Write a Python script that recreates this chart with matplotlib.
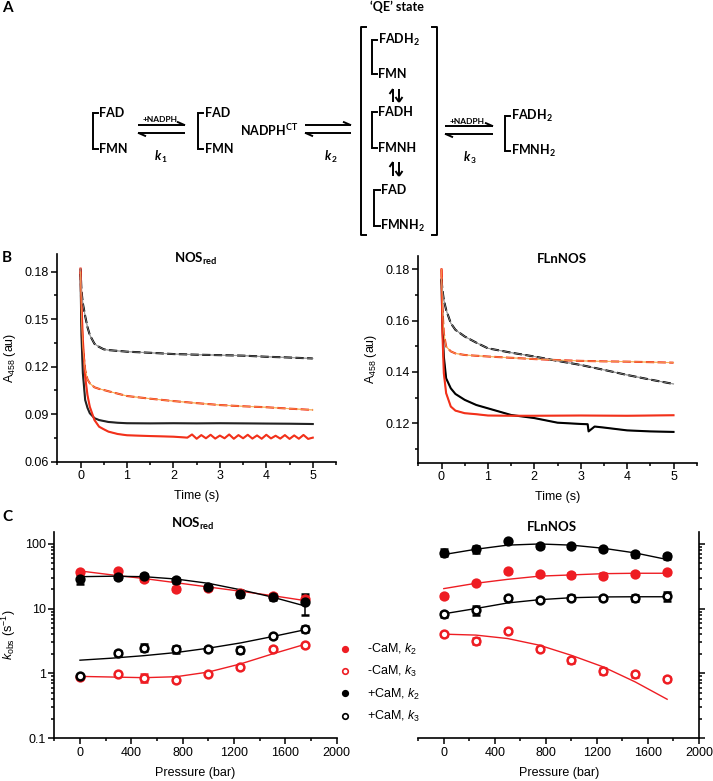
import numpy as np
import matplotlib
matplotlib.use('Agg')
import matplotlib.pyplot as plt
from matplotlib.ticker import MultipleLocator, LogLocator, FuncFormatter, NullFormatter
from matplotlib.lines import Line2D

plt.rcParams['font.family'] = ['Liberation Sans', 'DejaVu Sans']
plt.rcParams['mathtext.fontset'] = 'custom'
plt.rcParams['mathtext.rm'] = 'Liberation Sans'
plt.rcParams['mathtext.it'] = 'Liberation Sans:italic'
plt.rcParams['mathtext.bf'] = 'Lato:bold'

RED = '#f2301b'
FIT_RED = '#f7b25a'
FIT_BLK = '#9a9a9a'
PT_RED = '#ee1d23'
FS = 9

# ---- panel B: stopped-flow traces (A458 vs time) ----
# NOSred
t_nos_bd = [0, 0.02, 0.05, 0.1, 0.15, 0.2, 0.3, 0.4, 0.5, 0.6, 0.8, 1.0, 1.5, 2.0, 2.5, 3.0, 3.5, 4.0, 4.5, 5.0]
nos_blk_dash = [0.182, 0.168, 0.160, 0.152, 0.145, 0.140, 0.1345, 0.1325, 0.131, 0.1305, 0.130, 0.1295, 0.1288,
                0.128, 0.1276, 0.1273, 0.127, 0.1263, 0.1258, 0.1252]
nos_red_dash = [0.180, 0.150, 0.132, 0.118, 0.112, 0.1095, 0.107, 0.106, 0.1053, 0.1045, 0.103, 0.1015, 0.0998,
                0.0983, 0.097, 0.0958, 0.095, 0.0944, 0.0935, 0.0927]
nos_blk_solid = [0.178, 0.140, 0.116, 0.099, 0.094, 0.0906, 0.0875, 0.0863, 0.0857, 0.0851, 0.0846, 0.0843, 0.0842,
                 0.0843, 0.0842, 0.0843, 0.0842, 0.0841, 0.0840, 0.0838]
t_nos_rs = [0, 0.02, 0.05, 0.1, 0.15, 0.2, 0.3, 0.4, 0.5, 0.6, 0.8, 1.0, 1.5, 2.0, 2.3, 2.4, 2.5, 2.6, 2.7, 2.8,
            2.9, 3.0, 3.1, 3.2, 3.3, 3.4, 3.5, 3.6, 3.7, 3.8, 3.9, 4.0, 4.1, 4.2, 4.3, 4.4, 4.5, 4.6, 4.7, 4.8,
            4.9, 5.0]
nos_red_solid = [0.182, 0.160, 0.137, 0.1137, 0.102, 0.0947, 0.0863, 0.0821, 0.0805, 0.079, 0.0775, 0.0767, 0.0762,
                 0.0758, 0.0752, 0.0772, 0.0745, 0.0768, 0.0748, 0.0770, 0.0746, 0.0765, 0.0748, 0.0772, 0.0745,
                 0.0768, 0.0748, 0.0770, 0.0746, 0.0766, 0.0745, 0.0770, 0.0747, 0.0764, 0.0746, 0.0768, 0.0744,
                 0.0766, 0.0745, 0.0769, 0.0744, 0.0752]

# FLnNOS
t_fl = [0, 0.02, 0.05, 0.1, 0.2, 0.3, 0.5, 0.75, 1.0, 1.5, 2.0, 2.5, 3.0, 3.5, 4.0, 4.5, 5.0]
fl_blk_dash = [0.176, 0.172, 0.168, 0.1642, 0.159, 0.1564, 0.1538, 0.1514, 0.1492, 0.1475, 0.146, 0.1443, 0.1427,
               0.1408, 0.1388, 0.137, 0.1353]
fl_red_dash = [0.180, 0.165, 0.155, 0.1499, 0.148, 0.1472, 0.1466, 0.1463, 0.146, 0.1455, 0.145, 0.1446, 0.1443,
               0.1441, 0.144, 0.1438, 0.1436]
t_fl_bs = [0, 0.02, 0.05, 0.1, 0.2, 0.3, 0.5, 0.75, 1.0, 1.5, 2.0, 2.5, 3.0, 3.15, 3.17, 3.3, 3.5, 4.0, 4.5, 5.0]
fl_blk_solid = [0.176, 0.158, 0.146, 0.1375, 0.1336, 0.1314, 0.1291, 0.1271, 0.1258, 0.1232, 0.122, 0.1202, 0.1197,
                0.1196, 0.1168, 0.1187, 0.1183, 0.1172, 0.1168, 0.1166]
t_fl_rs = [0, 0.02, 0.05, 0.1, 0.2, 0.3, 0.5, 0.75, 1.0, 1.5, 2.0, 3.0, 4.0, 5.0]
fl_red_solid = [0.180, 0.155, 0.1395, 0.1317, 0.1265, 0.1249, 0.1239, 0.1235, 0.1230, 0.1229, 0.1229, 0.123,
                0.1229, 0.1231]

# ---- panel C: kobs vs pressure ----
p_nos = [0, 300, 500, 750, 1000, 1250, 1500, 1750]
nos_k2_mcam = [36.5, 37.5, 28.5, 20.0, 21.0, 17.4, 15.6, 13.9]
nos_k2_mcam_err = [2, 2, 2, 1.5, 1.5, 1.5, 1, 1.5]
nos_k2_pcam = [29.0, 30.6, 31.8, 27.2, 21.5, 17.0, 15.1, 12.4]
nos_k2_pcam_err = [5, 2, 2, 2, 1.5, 2, 1.5, 4.5]
nos_k3_mcam = [0.89, 0.97, 0.86, 0.79, 0.98, 1.26, 2.42, 2.72]
nos_k3_mcam_err = [0.05, 0.05, 0.13, 0.05, 0.05, 0.08, 0.1, 0.15]
nos_k3_pcam = [0.91, 2.1, 2.5, 2.36, 2.4, 2.3, 3.75, 4.85]
nos_k3_pcam_err = [0.05, 0.15, 0.3, 0.3, 0.2, 0.25, 0.2, 0.5]

p_fit = [0, 250, 500, 750, 1000, 1250, 1500, 1750]
nos_fit_k2_mcam = [38, 33, 29, 25, 21.5, 18.5, 15.8, 13.3]
nos_fit_k2_pcam = [31, 31.5, 31, 28.5, 24.5, 19.5, 15, 11]
nos_fit_k3_mcam = [0.9, 0.88, 0.86, 0.89, 1.05, 1.4, 2.0, 2.8]
nos_fit_k3_pcam = [1.6, 1.72, 1.88, 2.1, 2.45, 2.95, 3.7, 4.7]

p_fl = [0, 250, 500, 750, 1000, 1250, 1500, 1750]
fl_k2_pcam = [72.7, 81.7, 109.6, 90.8, 91.8, 81.7, 68.4, 63.8]
fl_k2_pcam_err = [9, 10, 6, 5, 5, 5, 7, 5]
fl_k2_mcam = [15.6, 24.8, 37.9, 33.7, 32.9, 32.2, 34.5, 36.1]
fl_k2_mcam_err = [1, 1, 2, 2, 2, 3, 2, 2]
fl_k3_pcam = [8.1, 9.4, 14.6, 13.7, 14.7, 14.7, 14.7, 15.5]
fl_k3_pcam_err = [0.6, 1.5, 1, 0.8, 1.2, 1, 1.5, 2.5]
fl_k3_mcam = [4.03, 3.18, 4.48, 2.37, 1.6, 1.10, 0.975, 0.82]
fl_k3_mcam_err = [0.2, 0.3, 0.35, 0.15, 0.15, 0.12, 0.08, 0.05]

fl_fit_k2_pcam = [68, 82, 95, 99, 95, 85, 72, 57]
fl_fit_k2_mcam = [20.3, 24.5, 28.2, 31.6, 33, 34.5, 35, 35]
fl_fit_k3_pcam = [8.3, 10, 12.2, 13.7, 14.7, 15.1, 15.2, 15.2]
fl_fit_k3_mcam = [4.03, 3.9, 3.45, 2.72, 1.9, 1.26, 0.74, 0.40]

legend_labels = [r'-CaM, $k_{\mathrm{2}}$', r'-CaM, $k_{\mathrm{3}}$',
                 r'+CaM, $k_{\mathrm{2}}$', r'+CaM, $k_{\mathrm{3}}$']

W, H = 713, 781
fig = plt.figure(figsize=(W / 100, H / 100), dpi=100)


def px_axes(x0, y0, x1, y1):
    return fig.add_axes([x0 / W, 1 - y1 / H, (x1 - x0) / W, (y1 - y0) / H])


def style_axes(ax):
    for s in ['top', 'right']:
        ax.spines[s].set_visible(False)
    for s in ax.spines.values():
        s.set_linewidth(1.2)
    ax.tick_params(which='both', direction='out', width=1.1, labelsize=FS, pad=2)
    ax.tick_params(which='major', length=4)
    ax.tick_params(which='minor', length=2.5)


def trace(ax, t, v, color, fitcolor, dashed):
    ax.plot(t, v, color=fitcolor, lw=0.8, zorder=2)
    if dashed:
        ax.plot(t, v, color=color, lw=1.5, ls=(0, (4, 1.6)), zorder=3)
        ax.plot(t, v, color=fitcolor, lw=0.5, zorder=4)
    else:
        ax.plot(t, v, color=color, lw=1.5, zorder=3)


# B left
axb1 = px_axes(57.3, 254, 336, 461.7)
trace(axb1, t_nos_bd, nos_blk_dash, 'k', FIT_BLK, True)
trace(axb1, t_nos_bd, nos_red_dash, RED, FIT_RED, True)
trace(axb1, t_nos_bd, nos_blk_solid, '#222222', FIT_BLK, False)
trace(axb1, t_nos_rs, nos_red_solid, RED, FIT_RED, False)
axb1.set_xlim(-0.5, 5.5)
axb1.set_ylim(0.06, 0.1912)
axb1.set_yticks([0.06, 0.09, 0.12, 0.15, 0.18])
axb1.yaxis.set_major_formatter(FuncFormatter(lambda v, p: '%.2f' % v))
axb1.yaxis.set_minor_locator(MultipleLocator(0.015))
axb1.set_xticks([0, 1, 2, 3, 4, 5])
axb1.xaxis.set_minor_locator(MultipleLocator(0.5))
style_axes(axb1)
axb1.set_xlabel('Time (s)', fontsize=FS, labelpad=6)
axb1.set_ylabel(r'A$_{\mathrm{458}}$ (au)', fontsize=FS, labelpad=5)

# B right
axb2 = px_axes(418.3, 255.7, 696.7, 462.7)
trace(axb2, t_fl, fl_blk_dash, 'k', FIT_BLK, True)
trace(axb2, t_fl, fl_red_dash, RED, FIT_RED, True)
trace(axb2, t_fl_bs, fl_blk_solid, 'k', FIT_BLK, False)
trace(axb2, t_fl_rs, fl_red_solid, RED, FIT_RED, False)
axb2.set_xlim(-0.5, 5.5)
axb2.set_ylim(0.1046, 0.1853)
axb2.set_yticks([0.12, 0.14, 0.16, 0.18])
axb2.yaxis.set_major_formatter(FuncFormatter(lambda v, p: '%.2f' % v))
axb2.yaxis.set_minor_locator(MultipleLocator(0.01))
axb2.set_xticks([0, 1, 2, 3, 4, 5])
axb2.xaxis.set_minor_locator(MultipleLocator(0.5))
style_axes(axb2)
axb2.set_xlabel('Time (s)', fontsize=FS, labelpad=6)
axb2.set_ylabel(r'A$_{\mathrm{458}}$ (au)', fontsize=FS, labelpad=5)


def kpoints(ax, p, v, err, color, filled):
    ax.errorbar(p, v, yerr=err, fmt='o', ms=5.6, mec=color, mew=1.8,
                mfc=color if filled else 'white', ecolor=color, elinewidth=1.1,
                capsize=3, capthick=1.1, zorder=4)


def log_axes(ax):
    ax.set_yscale('log')
    ax.set_ylim(0.1, 153)
    ax.set_xlim(-200, 2000)
    ax.set_xticks([0, 400, 800, 1200, 1600, 2000])
    ax.xaxis.set_minor_locator(MultipleLocator(200))
    ax.yaxis.set_major_locator(LogLocator(base=10, numticks=10))
    ax.yaxis.set_minor_locator(LogLocator(base=10, subs=np.arange(2, 10), numticks=10))
    ax.yaxis.set_minor_formatter(NullFormatter())
    ax.yaxis.set_major_formatter(FuncFormatter(lambda v, p: '%g' % v))


# C left
axc1 = px_axes(54.3, 531.7, 336.7, 738.3)
axc1.plot(p_fit, nos_fit_k2_mcam, color=PT_RED, lw=1.0, zorder=3)
axc1.plot(p_fit, nos_fit_k2_pcam, color='k', lw=1.0, zorder=3)
axc1.plot(p_fit, nos_fit_k3_mcam, color=PT_RED, lw=1.0, zorder=3)
axc1.plot(p_fit, nos_fit_k3_pcam, color='k', lw=1.0, zorder=3)
kpoints(axc1, p_nos, nos_k2_mcam, nos_k2_mcam_err, PT_RED, True)
kpoints(axc1, p_nos, nos_k3_mcam, nos_k3_mcam_err, PT_RED, False)
kpoints(axc1, p_nos, nos_k2_pcam, nos_k2_pcam_err, 'k', True)
kpoints(axc1, p_nos, nos_k3_pcam, nos_k3_pcam_err, 'k', False)
log_axes(axc1)
style_axes(axc1)
axc1.set_xlabel('Pressure (bar)', fontsize=FS, labelpad=6)
axc1.set_ylabel(r'$k_{\mathrm{obs}}$ (s$^{\mathrm{-1}}$)', fontsize=FS, labelpad=5)

# C right
axc2 = px_axes(418.3, 531.7, 699, 738.3)
axc2.plot(p_fit, fl_fit_k2_pcam, color='k', lw=1.0, zorder=3)
axc2.plot(p_fit, fl_fit_k2_mcam, color=PT_RED, lw=1.0, zorder=3)
axc2.plot(p_fit, fl_fit_k3_pcam, color='k', lw=1.0, zorder=3)
axc2.plot(p_fit, fl_fit_k3_mcam, color=PT_RED, lw=1.0, zorder=3)
kpoints(axc2, p_fl, fl_k2_pcam, fl_k2_pcam_err, 'k', True)
kpoints(axc2, p_fl, fl_k2_mcam, fl_k2_mcam_err, PT_RED, True)
kpoints(axc2, p_fl, fl_k3_pcam, fl_k3_pcam_err, 'k', False)
kpoints(axc2, p_fl, fl_k3_mcam, fl_k3_mcam_err, PT_RED, False)
log_axes(axc2)
style_axes(axc2)
axc2.spines['left'].set_visible(False)
axc2.spines['right'].set_visible(True)
axc2.yaxis.tick_right()
axc2.tick_params(axis='y', which='both', labelright=False)
axc2.set_xlabel('Pressure (bar)', fontsize=FS, labelpad=6)

# legend between the two C panels
handles = [Line2D([], [], ls='none', marker='o', ms=4, mec=PT_RED, mfc=PT_RED, mew=1.2),
           Line2D([], [], ls='none', marker='o', ms=4, mec=PT_RED, mfc='white', mew=1.2),
           Line2D([], [], ls='none', marker='o', ms=4, mec='k', mfc='k', mew=1.2),
           Line2D([], [], ls='none', marker='o', ms=4, mec='k', mfc='white', mew=1.2)]
fig.legend(handles, legend_labels, loc='upper left', bbox_to_anchor=(339 / W, 1 - 642 / H),
           frameon=False, fontsize=FS, handlelength=0.95, handletextpad=1.3,
           labelspacing=0.58, borderpad=0, borderaxespad=0)

# ---- overlay: panel A scheme, panel letters, titles ----
ov = fig.add_axes([0, 0, 1, 1])
ov.set_xlim(0, W)
ov.set_ylim(H, 0)
ov.set_axis_off()
ov.patch.set_alpha(0)

SFS = 9
TFS = 9.5
BF = dict(family='Lato', weight='bold', fontsize=SFS, va='center', ha='left')


def bracket(x, y0, y1, s=5.5):
    ov.plot([x + s, x, x, x + s], [y0, y0, y1, y1], color='k', lw=1.4, solid_joinstyle='miter')


def eq_arrows(x0, x1, y, gap=7.5):
    ya, yb = y - gap / 2, y + gap / 2
    kw = dict(color='k', lw=1.4, solid_capstyle='butt')
    ov.plot([x0, x1], [ya, ya], **kw)
    ov.plot([x1, x1 - 8], [ya, ya - 3.5], **kw)
    ov.plot([x0, x1], [yb, yb], **kw)
    ov.plot([x0, x0 + 8], [yb, yb + 3.5], **kw)


def updown(x, y0, y1):
    kw = dict(color='k', lw=1.4, solid_capstyle='butt')
    ov.plot([x - 3, x - 3], [y1, y0], **kw)
    ov.plot([x - 3, x - 6.5], [y0, y0 + 5], **kw)
    ov.plot([x + 3, x + 3], [y0, y1], **kw)
    ov.plot([x + 3, x + 6.5], [y1, y1 - 5], **kw)
    ov.plot([x + 3, x - 0.5], [y1, y1 - 5], **kw)


def kconst(x, y, n):
    ov.text(x, y, 'k', family='Lato', weight='bold', style='italic', fontsize=SFS, ha='right', va='center')
    ov.text(x + 0.5, y + 3.5, n, family='Lato', weight='bold', fontsize=6, ha='left', va='center')


def sub_label(x, y, main, sub):
    ov.text(x, y, r'$\mathbf{%s_{%s}}$' % (main, sub), **BF)


ov.text(2, 8, 'A', family='Lato', weight='bold', fontsize=11, va='center', ha='left')
ov.text(397, 7, '\u2018QE\u2019 state', family='Lato', weight='bold', fontsize=SFS, ha='center', va='center')

bracket(92.5, 113, 149)
ov.text(99.5, 113, 'FAD', **BF)
ov.text(99.5, 149, 'FMN', **BF)
eq_arrows(138, 185, 129)
ov.text(160, 119.5, '+NADPH', family='Lato', weight='bold', fontsize=6, ha='center', va='center')
kconst(161, 156, '1')

bracket(197.5, 113, 149)
ov.text(204.5, 113, 'FAD', **BF)
ov.text(204.5, 149, 'FMN', **BF)
ov.text(240, 130, r'$\mathbf{NADPH^{CT}}$', **BF)
eq_arrows(305, 351, 129)
kconst(331, 156, '2')

# big bracket for the QE state
ov.plot([366, 361, 361, 366], [27, 27, 235, 235], color='k', lw=1.4)
ov.plot([432, 437, 437, 432], [27, 27, 235, 235], color='k', lw=1.4)
bracket(371.5, 40, 74)
sub_label(378, 40, 'FADH', '2')
ov.text(378, 74, 'FMN', **BF)
updown(396, 89, 102)
bracket(371.5, 112, 148)
ov.text(378, 112, 'FADH', **BF)
ov.text(378, 148, 'FMNH', **BF)
updown(396, 162, 176)
bracket(374, 190, 226)
ov.text(380.5, 190, 'FAD', **BF)
sub_label(380.5, 226, 'FMNH', '2')

eq_arrows(445, 493, 130)
ov.text(467, 121, '+NADPH', family='Lato', weight='bold', fontsize=6, ha='center', va='center')
kconst(470, 157, '3')
bracket(504.5, 116, 151)
sub_label(511, 116, 'FADH', '2')
sub_label(511, 151, 'FMNH', '2')

# panel letters and titles
ov.text(2, 258, 'B', family='Lato', weight='bold', fontsize=11, va='center', ha='left')
ov.text(2, 517, 'C', family='Lato', weight='bold', fontsize=11, va='center', ha='left')
ov.text(196, 259, r'$\mathbf{NOS_{red}}$', family='Lato', fontsize=TFS, ha='center', va='center')
ov.text(562, 259, 'FLnNOS', family='Lato', weight='bold', fontsize=TFS, ha='center', va='center')
ov.text(193, 524, r'$\mathbf{NOS_{red}}$', family='Lato', fontsize=TFS, ha='center', va='center')
ov.text(552, 527, 'FLnNOS', family='Lato', weight='bold', fontsize=TFS, ha='center', va='center')

fig.savefig('out.png', dpi=100)
